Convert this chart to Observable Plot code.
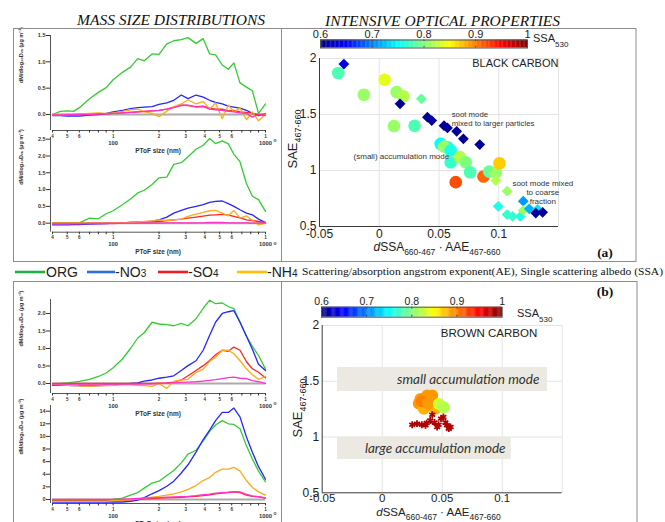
<!DOCTYPE html>
<html><head><meta charset="utf-8">
<script src="https://cdn.jsdelivr.net/npm/d3@7"></script>
<script src="https://cdn.jsdelivr.net/npm/@observablehq/plot@0.6"></script>
<style>
body{margin:0;background:#fff}
#root{position:relative;width:665px;height:522px;overflow:hidden;background:#fff;font-family:'Liberation Sans',Arial,sans-serif}
</style></head>
<body><div id="root"></div>
<script>
// ---------- size distribution data (PToF size, nm) ----------
const sizes = [40,45,50,55,60,70,80,90,100,115,130,145,160,180,200,225,250,280,310,350,390,430,470,520,570,620,680,750,820,900,1000];
const seriesKeys = ["ORG","NO3","SO4","NH4","OTHER"];
const seriesColors = ["#33cc33","#2626ff","#ff2626","#ffaa1a","#ff33cc"];
const xTicks = [40,50,60,70,80,90,100,200,300,400,500,600,700,800,900,1000];

// panel (a) upper
const a1ORG = [0.00,0.06,0.07,0.06,0.13,0.30,0.42,0.51,0.66,0.80,0.90,1.06,1.02,1.15,1.14,1.34,1.40,1.42,1.46,1.35,1.44,1.15,1.13,0.94,0.86,0.98,0.60,0.52,0.45,0.02,0.20];
const a1NO3 = [-0.02,-0.02,-0.03,-0.03,-0.03,-0.01,0.00,0.02,0.05,0.08,0.11,0.13,0.14,0.15,0.19,0.22,0.27,0.37,0.30,0.37,0.33,0.27,0.23,0.20,0.16,0.14,0.12,0.08,0.02,-0.02,0.01];
const a1SO4 = [-0.01,-0.01,-0.01,-0.01,0.00,0.00,0.01,0.01,0.02,0.03,0.04,0.05,0.06,0.07,0.08,0.10,0.14,0.18,0.17,0.15,0.16,0.12,0.10,0.10,0.07,0.08,0.05,0.04,0.02,0.00,0.00];
const a1NH4 = [0.00,0.00,0.01,0.00,0.01,0.02,0.03,0.02,0.03,0.06,0.09,0.10,0.05,0.02,-0.04,0.06,0.15,0.20,0.28,0.20,0.25,0.10,0.22,-0.08,0.18,0.05,0.12,-0.10,0.05,-0.12,0.00];
const a1OTH = [-0.01,-0.01,-0.01,0.00,0.00,0.00,0.01,0.01,0.02,0.03,0.04,0.05,0.06,0.07,0.08,0.10,0.13,0.17,0.18,0.14,0.15,0.10,0.09,0.08,0.06,0.05,0.03,0.02,-0.05,0.00,-0.02];
// panel (a) lower
const a2ORG = [0.00,0.00,0.00,0.00,0.01,0.15,0.13,0.28,0.37,0.55,0.72,0.90,0.98,1.15,1.35,1.37,1.75,1.80,1.98,2.20,2.32,2.52,2.37,2.45,2.36,2.05,1.83,1.18,0.80,0.70,0.35];
const a2NO3 = [-0.05,-0.05,-0.05,-0.04,-0.04,-0.03,-0.02,-0.01,0.00,0.01,0.02,0.03,0.04,0.06,0.10,0.18,0.30,0.38,0.45,0.50,0.55,0.62,0.65,0.66,0.58,0.50,0.40,0.30,0.25,0.12,0.02];
const a2SO4 = [0.00,0.00,0.00,0.00,0.00,0.00,0.00,0.00,0.00,0.01,0.02,0.02,0.03,0.04,0.05,0.08,0.10,0.12,0.15,0.18,0.21,0.24,0.25,0.26,0.24,0.20,0.16,0.10,0.08,0.05,0.02];
const a2NH4 = [0.00,0.00,0.00,0.00,0.00,0.00,0.00,0.00,0.01,0.01,0.02,0.03,0.05,0.07,0.10,0.08,0.10,0.12,0.20,0.27,0.32,0.37,0.38,0.30,0.22,0.38,0.15,0.22,0.08,-0.05,0.00];
const a2OTH = [-0.02,-0.02,-0.02,-0.02,-0.02,-0.01,-0.01,-0.01,-0.01,0.00,0.00,0.00,0.00,0.00,0.00,0.01,0.01,0.01,0.01,0.01,0.01,0.02,0.02,0.02,0.01,0.01,0.01,0.01,0.00,0.00,0.00];
// panel (b) upper
const b1ORG = [-0.01,0.00,0.02,0.04,0.06,0.12,0.20,0.30,0.45,0.70,1.00,1.30,1.45,1.75,1.70,1.68,1.65,1.72,1.65,1.85,2.15,2.38,2.28,2.30,2.20,2.14,1.76,1.35,1.06,0.80,0.41];
const b1NO3 = [-0.05,-0.05,-0.05,-0.06,-0.06,-0.07,-0.06,-0.05,-0.04,-0.02,0.00,0.02,0.07,0.10,0.15,0.18,0.22,0.37,0.51,0.65,0.95,1.38,1.75,2.00,2.05,2.08,1.75,1.35,0.98,0.55,0.37];
const b1SO4 = [0.00,0.00,0.00,0.00,0.00,0.00,0.00,0.00,0.00,0.00,0.00,0.00,0.00,0.00,0.01,0.02,0.04,0.10,0.22,0.37,0.51,0.66,0.82,0.95,0.92,1.04,0.95,0.62,0.42,0.32,0.16];
const b1NH4 = [-0.03,-0.04,-0.05,-0.06,-0.07,-0.08,-0.07,-0.06,-0.05,-0.04,-0.04,-0.05,-0.06,-0.08,0.00,-0.14,0.06,0.10,0.12,0.32,0.41,0.63,0.75,0.95,0.95,0.85,0.65,0.42,0.25,0.12,0.20];
const b1OTH = [-0.02,-0.02,-0.02,-0.02,-0.02,-0.02,-0.02,-0.02,-0.02,-0.02,-0.02,-0.02,-0.01,-0.01,0.00,0.01,0.02,0.03,0.04,0.05,0.07,0.09,0.11,0.14,0.17,0.18,0.15,0.14,0.08,0.05,0.00];
// panel (b) lower
const b2ORG = [-0.2,-0.2,-0.2,-0.2,-0.2,-0.1,-0.1,-0.1,0.0,0.2,0.7,1.1,1.8,2.6,2.9,3.8,4.6,5.8,7.2,7.8,9.3,10.8,11.8,12.5,12.0,11.9,11.2,8.5,6.4,4.5,2.8];
const b2NO3 = [-0.4,-0.4,-0.4,-0.4,-0.4,-0.4,-0.4,-0.4,-0.4,-0.4,-0.3,-0.1,0.3,0.9,1.4,2.1,2.9,4.2,5.5,7.5,9.5,11.0,12.5,13.8,13.8,14.5,13.1,9.9,7.5,5.2,3.2];
const b2SO4 = [-0.1,-0.1,-0.1,-0.1,-0.1,-0.1,-0.1,-0.1,-0.1,-0.1,-0.05,0.0,0.1,0.15,0.2,0.25,0.3,0.35,0.4,0.5,0.6,0.75,0.9,1.0,1.1,1.2,1.1,0.7,0.5,0.4,0.2];
const b2NH4 = [-0.3,-0.3,-0.3,-0.3,-0.3,-0.3,-0.3,-0.3,-0.2,-0.1,0.0,0.1,0.2,0.35,0.5,0.7,0.9,1.2,1.6,2.2,3.0,3.5,4.3,4.8,4.8,5.1,4.5,3.0,1.9,1.2,0.7];
const b2OTH = [0.0,0.0,0.0,0.0,0.0,0.0,0.0,0.0,0.0,0.05,0.1,0.15,0.2,0.25,0.3,0.35,0.4,0.45,0.5,0.6,0.75,0.85,1.0,1.1,1.15,1.25,1.2,0.8,0.55,0.45,0.25];

// ---------- optical properties data ----------
const bcX   = [-0.0296,-0.0343,0.0045,-0.0129,0.0145,0.0201,0.0352,0.0174,0.0123,0.0296,0.0403,0.0439,0.0542,0.0571,0.0648,0.0704,0.0841,0.0514,0.057,0.0542,0.0598,0.0598,0.0676,0.0724,0.076,0.064,0.0872,0.092,0.0975,0.1006,0.0975,0.107,0.0995,0.107,0.1116,0.118,0.1205,0.1205,0.1255,0.1325,0.131,0.1367];
const bcY   = [1.95,1.87,1.81,1.676,1.70,1.663,1.64,1.595,1.396,1.40,1.476,1.446,1.40,1.38,1.35,1.283,1.232,1.238,1.208,1.214,1.18,1.074,1.119,1.074,0.985,0.896,0.946,0.99,0.985,1.065,0.91,0.815,0.68,0.607,0.59,0.59,0.726,0.643,0.658,0.652,0.62,0.627];
const bcSSA = [0.64,0.78,0.84,0.81,0.81,0.82,0.79,0.61,0.81,0.78,0.61,0.61,0.61,0.61,0.61,0.61,0.61,0.75,0.75,0.81,0.76,0.77,0.82,0.80,0.78,0.92,0.91,0.79,0.81,0.87,0.82,0.81,0.76,0.77,0.77,0.76,0.71,0.81,0.72,0.74,0.61,0.61];
const bcMarker = ["d","o","o","o","o","o","d","d","o","o","d","d","d","d","d","d","d","o","o","o","o","o","o","o","o","o","o","o","o","o","d","d","d","d","d","d","d","d","d","d","d","d"];

const brcCircX   = [0.0305,0.0319,0.0375,0.0417,0.0347,0.0402,0.0444,0.033,0.038,0.0472,0.0513];
const brcCircY   = [1.30,1.342,1.372,1.372,1.253,1.282,1.253,1.32,1.30,1.297,1.267];
const brcCircSSA = [0.89,0.89,0.89,0.89,0.88,0.89,0.88,0.90,0.89,0.83,0.82];
const brcStarX   = [0.025,0.029,0.033,0.0361,0.037,0.040,0.0417,0.0436,0.0458,0.047,0.049,0.051,0.0527,0.054,0.0555,0.057];
const brcStarY   = [1.11,1.12,1.11,1.105,1.125,1.148,1.20,1.13,1.09,1.11,1.165,1.18,1.13,1.105,1.075,1.09];
const brcStarSSA = [0.98,0.98,0.98,0.98,0.98,0.98,0.98,0.98,0.98,0.98,0.98,0.98,0.98,0.98,0.98,0.98];
const ssaTicks = [0.6,0.7,0.8,0.9,1];

// ---------- helpers ----------
const root = document.getElementById("root");
function place(el, left, top){ el.style.position="absolute"; el.style.left=left+"px"; el.style.top=top+"px"; root.appendChild(el); }
const jetDomain = [0.6,0.65,0.75,0.85,0.95,1.0];
const jetRange = ["#00007f","#0000ff","#00ffff","#ffff00","#ff0000","#7f0000"];
const jet = () => ({type:"linear", domain:jetDomain, range:jetRange, interpolate:d3.interpolateRgb, clamp:true});
const baseStyle = {background:"none", overflow:"visible", fontFamily:"'Liberation Sans',Arial,sans-serif", color:"#222"};
const yLabelText = "dM/dlog\u2081\u2080D\u1D65\u2090 (\u00B5g m\u207B\u00B3)";

function sizePanel(arrs, cfg){
  const rows = [];
  seriesKeys.forEach((k,j)=>arrs[j].forEach((v,i)=>rows.push({size:sizes[i], value:v, series:k})));
  const top = cfg.pxTop - 4, height = cfg.pxAxis + 24 - top;
  const svg = Plot.plot({
    width:280, height, marginLeft:50, marginRight:15, marginTop:4, marginBottom:24,
    x:{type:"log", domain:[38.8,1000]},
    y:{domain:cfg.yDomain},
    color:{domain:seriesKeys, range:seriesColors},
    style:{...baseStyle, color:"#333"},
    marks:[
      Plot.ruleY([0],{x1:40, x2:1000, stroke:"#ababab", strokeWidth:2}),
      Plot.lineY(rows,{x:"size", y:"value", z:"series", stroke:"series", strokeWidth:1.3}),
      Plot.ruleX([38.8],{stroke:"#555"}),
      Plot.ruleY([cfg.yDomain[0]],{x1:40, x2:1000, stroke:"#555"}),
      Plot.axisY({ticks:cfg.yTicks, tickFormat:cfg.fmt, tickSize:4, tickPadding:1, fontSize:5.5, fontWeight:"bold", label:null}),
      Plot.axisX({ticks:xTicks, tickFormat:d=>String(d)[0], tickSize:2.5, tickPadding:1.5, fontSize:4.5, fontWeight:"bold", label:null}),
      Plot.text([100,1000],{x:d=>d, frameAnchor:"bottom", dy:14, text:d=>String(d), fontSize:5.8, fontWeight:"bold"}),
      Plot.text(["PToF size (nm)"],{frameAnchor:"bottom", dy:22, text:d=>d, fontSize:6.5, fontWeight:"bold"}),
      Plot.text([yLabelText],{frameAnchor:"left", dx:-29, rotate:-90, text:d=>d, fontSize:5.5, fontWeight:"bold"})
    ]
  });
  place(svg, 0, top);
}

sizePanel([a1ORG,a1NO3,a1SO4,a1NH4,a1OTH], {pxTop:35, pxAxis:130, yDomain:[-0.304,1.5], yTicks:[0,0.5,1,1.5], fmt:d3.format(".1f")});
sizePanel([a2ORG,a2NO3,a2SO4,a2NH4,a2OTH], {pxTop:137.3, pxAxis:232, yDomain:[-0.268,2.55], yTicks:[0,0.5,1,1.5,2,2.5], fmt:d3.format(".1f")});
sizePanel([b1ORG,b1NO3,b1SO4,b1NH4,b1OTH], {pxTop:299, pxAxis:393, yDomain:[-0.286,2.4], yTicks:[0,0.5,1,1.5,2], fmt:d3.format(".1f")});
sizePanel([b2ORG,b2NO3,b2SO4,b2NH4,b2OTH], {pxTop:405, pxAxis:503, yDomain:[-0.64,14.9], yTicks:[0,2,4,6,8,10,12,14], fmt:d3.format("d")});

// ---------- scatter panels ----------
function scatterPanel(cfg, marks){
  return Plot.plot({
    width:380, height:cfg.height, marginLeft:cfg.ml, marginRight:cfg.mr, marginTop:cfg.mt, marginBottom:cfg.mb,
    x:{domain:[-0.05,0.15]}, y:{domain:[0.5,2]},
    color:jet(),
    style:baseStyle,
    marks:[
      Plot.ruleX([0,0.05,0.1,0.15],{stroke:"#e4e4e4"}),
      Plot.ruleY([1,1.5,2],{stroke:"#e4e4e4"}),
      Plot.ruleX([-0.05],{stroke:"#3a3a3a"}),
      Plot.ruleY([0.5],{stroke:"#3a3a3a"}),
      Plot.axisX({ticks:[-0.05,0,0.05,0.1], tickFormat:d=>String(d), tickSize:0, tickPadding:cfg.xpad, fontSize:cfg.xfs, label:null}),
      Plot.axisY({ticks:[0.5,1,1.5,2], tickFormat:d=>String(d), tickSize:0, tickPadding:3, fontSize:12, label:null}),
      ...marks
    ]
  });
}
const bc = bcX.map((x,i)=>({x, y:bcY[i], ssa:bcSSA[i], m:bcMarker[i]}));
const bcTop = scatterPanel({height:262, ml:49, mr:92, mt:58, mb:36, xpad:3, xfs:12}, [
  Plot.dot(bc.filter(d=>d.m==="o"),{x:"x", y:"y", fill:"ssa", r:6.3}),
  Plot.dot(bc.filter(d=>d.m==="d"),{x:"x", y:"y", fill:"ssa", symbol:"square", r:4.3, rotate:45}),
  Plot.text(["BLACK CARBON"],{x:0.1139, y:1.955, text:d=>d, fontSize:11, fill:"#222"}),
  Plot.text(["soot mode\nmixed to larger particles"],{x:0.0606, y:1.46, text:d=>d, textAnchor:"start", fontSize:7.8, lineHeight:1.15, fill:"#333"}),
  Plot.text(["(small) accumulation mode"],{x:-0.0215, y:1.125, text:d=>d, textAnchor:"start", fontSize:8, fill:"#333"}),
  Plot.text(["soot mode mixed\nto coarse\nfraction"],{x:0.1369, y:0.804, text:d=>d, fontSize:8, lineHeight:1.12, fill:"#333"})
]);
place(bcTop, 270, 0);

const brcC = brcCircX.map((x,i)=>({x, y:brcCircY[i], ssa:brcCircSSA[i]}));
const brcS = brcStarX.map((x,i)=>({x, y:brcStarY[i], ssa:brcStarSSA[i]}));
const brcBoxes = [
  {x1:-0.0373, x2:0.1377, y1:1.408, y2:1.623, tx:0.131, ty:1.515, label:"small accumulation mode"},
  {x1:-0.0373, x2:0.1075, y1:0.798, y2:0.998, tx:0.1028, ty:0.897, label:"large accumulation mode"}
];
const brcBottom = scatterPanel({height:242, ml:51.7, mr:88.3, mt:45, mb:29.7, xpad:1.5, xfs:11.5}, [
  Plot.rect(brcBoxes,{x1:"x1", x2:"x2", y1:"y1", y2:"y2", fill:"#ebe9e1"}),
  Plot.text(brcBoxes,{x:"tx", y:"ty", text:"label", textAnchor:"end", fontSize:13.5, fontStyle:"italic", fontFamily:"Lato, 'Open Sans', sans-serif", fill:"#333"}),
  Plot.dot(brcC,{x:"x", y:"y", fill:"ssa", r:6}),
  Plot.dot(brcS,{x:"x", y:"y", stroke:"ssa", symbol:"asterisk", r:3.2, strokeWidth:1.8}),
  Plot.text(["BROWN CARBON"],{x:0.089, y:1.927, text:d=>d, fontSize:11.5, fill:"#222"})
]);
place(brcBottom, 270, 280);

// ---------- colorbars ----------
function colorbar(cfg){
  const ramp = d3.range(0.6, 1, 0.0025);
  return Plot.plot({
    width:cfg.w, height:cfg.h, marginLeft:cfg.ml, marginRight:cfg.mr, marginTop:cfg.mt, marginBottom:cfg.mb,
    x:{domain:[0.6,1]}, y:{domain:[0,1], axis:null},
    color:jet(), style:baseStyle,
    marks:[
      Plot.rect(ramp,{x1:d=>d, x2:d=>d+0.003, y1:0, y2:1, fill:d=>d+0.00125}),
      Plot.ruleX(ssaTicks.slice(1,4),{y1:0, y2:0.2, stroke:"#444"}),
      Plot.ruleX(ssaTicks.slice(1,4),{y1:0.8, y2:1, stroke:"#444"}),
      Plot.frame({stroke:"#555"}),
      Plot.axisX({anchor:"top", ticks:ssaTicks, tickFormat:d=>d===1?"1":d.toFixed(1), tickSize:0, tickPadding:2, fontSize:cfg.fs, label:null})
    ]
  });
}
place(colorbar({w:240, h:26, ml:20, mr:13, mt:15.5, mb:2.5, fs:11}), 300, 24);
place(colorbar({w:220, h:30, ml:21, mr:18.3, mt:16.7, mb:3.3, fs:10.5}), 300, 290);

// ---------- overlay: frames, titles, legend, rich labels ----------
const ov = document.createElementNS("http://www.w3.org/2000/svg","svg");
ov.setAttribute("width","665"); ov.setAttribute("height","522");
ov.style.position="absolute"; ov.style.left="0"; ov.style.top="0"; ov.style.pointerEvents="none";
const sub = (t,fs,dy)=>`<tspan font-size="${fs}" dy="${dy}">${t}</tspan>`;
ov.innerHTML = `
<g fill="none" stroke="#8c8c8c" stroke-width="1">
  <rect x="13.5" y="28.5" width="622.5" height="233"/>
  <line x1="281.5" y1="28.5" x2="281.5" y2="261.5"/>
  <rect x="13.5" y="281.5" width="623.5" height="260"/>
  <line x1="281.5" y1="281.5" x2="281.5" y2="522"/>
</g>
<g font-family="'Liberation Serif','Times New Roman',serif" font-style="italic" font-size="15.5" fill="#111" text-anchor="middle">
  <text x="171" y="25" textLength="188" lengthAdjust="spacingAndGlyphs">MASS SIZE DISTRIBUTIONS</text>
  <text x="442.5" y="26" textLength="235" lengthAdjust="spacingAndGlyphs">INTENSIVE OPTICAL PROPERTIES</text>
</g>
<g stroke-width="2.6">
  <line x1="15" y1="272" x2="45" y2="272" stroke="#1fb04a"/>
  <line x1="87" y1="272" x2="115" y2="272" stroke="#2a6fd6"/>
  <line x1="158" y1="272" x2="188" y2="272" stroke="#ee1c24"/>
  <line x1="237" y1="272" x2="267" y2="272" stroke="#ffc000"/>
</g>
<g font-size="14" fill="#222">
  <text x="46" y="277">ORG</text>
  <text x="115" y="277">-NO<tspan font-size="10">3</tspan></text>
  <text x="188" y="277">-SO<tspan font-size="10">4</tspan></text>
  <text x="267" y="277">-NH<tspan font-size="10">4</tspan></text>
</g>
<text x="302" y="275" font-family="'Liberation Serif','Times New Roman',serif" font-size="11" fill="#111" textLength="361" lengthAdjust="spacingAndGlyphs">Scattering/absorption angstrom exponent(AE), Single scattering albedo (SSA)</text>
<g font-family="'Liberation Serif','Times New Roman',serif" font-weight="bold" font-size="13.5" fill="#111" text-anchor="middle">
  <text x="605" y="257">(a)</text>
  <text x="605" y="296">(b)</text>
</g>
<g fill="#222" font-size="12">
  <text x="437" y="251" text-anchor="middle"><tspan font-style="italic">d</tspan>SSA${sub("660-467",8.5,4)}<tspan dy="-4"> · AAE</tspan>${sub("467-660",8.5,4)}</text>
  <text x="438.5" y="516" text-anchor="middle" font-size="11.5"><tspan font-style="italic">d</tspan>SSA${sub("660-467",8.5,4)}<tspan dy="-4"> · AAE</tspan>${sub("467-660",8.5,4)}</text>
  <text transform="translate(297,139) rotate(-90)" text-anchor="middle" font-size="13">SAE${sub("467-660",9,4)}</text>
  <text transform="translate(302,408) rotate(-90)" text-anchor="middle" font-size="13">SAE${sub("467-660",9,4)}</text>
  <text x="533" y="42" font-size="11">SSA${sub("530",8,5)}</text>
  <text x="517" y="317" font-size="11">SSA${sub("530",8,5)}</text>
</g>
<g font-size="5" font-weight="bold" fill="#444" text-anchor="middle">
  <text x="275" y="142">o</text><text x="275" y="245">o</text>
  <text x="275" y="405">o</text><text x="275" y="515">o</text>
</g>`;
root.appendChild(ov);
</script>
</body></html>
